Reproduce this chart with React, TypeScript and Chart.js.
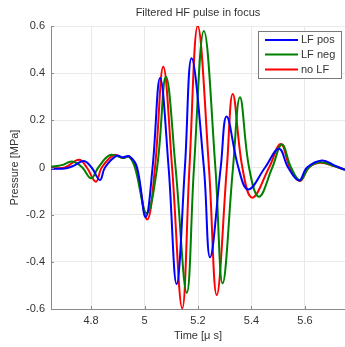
import React, { useEffect, useRef } from "react";
import { Chart, registerables } from "chart.js";

Chart.register(...registerables);

const TITLE = "Filtered HF pulse in focus";
const X_LABEL = "Time [μ s]";
const Y_LABEL = "Pressure [MPa]";
const X_TICKS = [4.8, 5, 5.2, 5.4, 5.6];
const Y_TICKS = [-0.6, -0.4, -0.2, 0, 0.2, 0.4, 0.6];
const SERIES_NAMES = ["LF pos", "LF neg", "no LF"];
const SERIES_COLORS = ["#0000ff", "#008000", "#ff0000"];

// LF pos (blue)
const lfPosX = [4.65, 4.702, 4.736, 4.773, 4.802, 4.833, 4.852, 4.896, 4.919, 4.942, 4.972, 5.004, 5.03, 5.058, 5.09, 5.12, 5.151, 5.176, 5.222, 5.245, 5.285, 5.307, 5.351, 5.388, 5.451, 5.503, 5.537, 5.578, 5.608, 5.664, 5.712, 5.75];
const lfPosY = [-0.005, -0.004, 0.008, 0.028, 0, -0.053, 0, 0.05, 0.043, 0.048, 0, -0.211, 0, 0.38, 0, -0.494, 0, 0.463, 0, -0.381, 0, 0.216, 0, -0.093, 0, 0.08, 0, -0.055, 0, 0.03, 0.008, -0.01];

// LF neg (green)
const lfNegX = [4.65, 4.69, 4.729, 4.767, 4.8, 4.827, 4.871, 4.919, 4.942, 4.964, 5.008, 5.047, 5.08, 5.116, 5.158, 5.185, 5.222, 5.265, 5.292, 5.331, 5.357, 5.391, 5.428, 5.478, 5.514, 5.548, 5.582, 5.615, 5.656, 5.712, 5.75];
const lfNegY = [0.003, 0.01, 0.025, 0, -0.046, 0, 0.053, 0.04, 0.046, 0, -0.194, 0, 0.385, 0, -0.531, 0, 0.579, 0, -0.491, 0, 0.298, 0, -0.124, 0, 0.097, 0, -0.055, 0, 0.022, 0.005, -0.01];

// no LF (red)
const noLfX = [4.65, 4.702, 4.755, 4.784, 4.818, 4.84, 4.886, 4.919, 4.942, 4.968, 5.01, 5.039, 5.07, 5.103, 5.141, 5.168, 5.199, 5.241, 5.27, 5.308, 5.33, 5.366, 5.403, 5.466, 5.51, 5.544, 5.582, 5.615, 5.656, 5.712, 5.75];
const noLfY = [-0.003, 0, 0.033, 0, -0.06, 0, 0.053, 0.04, 0.046, 0, -0.22, 0, 0.427, 0, -0.597, 0, 0.601, 0, -0.541, 0, 0.312, 0, -0.128, 0, 0.1, 0, -0.057, 0, 0.02, 0.005, -0.01];

const FONT = '"Liberation Sans", Arial, Helvetica, sans-serif';
const TEXT_COLOR = "#333333";
const AXIS_COLOR = "#8a8a8a";

const toPoints = (xs: number[], ys: number[]) => xs.map((x, i) => ({ x, y: ys[i] }));

const overlayPlugin = {
  id: "overlay",
  afterDraw(chart: any) {
    const ctx = chart.ctx as CanvasRenderingContext2D;
    const ca = chart.chartArea;
    const xs = chart.scales.x;
    const ys = chart.scales.y;
    ctx.save();
    ctx.strokeStyle = AXIS_COLOR;
    ctx.lineWidth = 1;
    X_TICKS.forEach((v) => {
      const px = Math.round(xs.getPixelForValue(v)) + 0.5;
      ctx.beginPath();
      ctx.moveTo(px, ca.bottom);
      ctx.lineTo(px, ca.bottom - 3);
      ctx.stroke();
    });
    Y_TICKS.forEach((v) => {
      const py = Math.round(ys.getPixelForValue(v)) + 0.5;
      ctx.beginPath();
      ctx.moveTo(ca.left, py);
      ctx.lineTo(ca.left + 3, py);
      ctx.stroke();
    });
    ctx.fillStyle = TEXT_COLOR;
    ctx.font = `11px ${FONT}`;
    ctx.textAlign = "center";
    ctx.textBaseline = "middle";
    ctx.fillText(TITLE, (ca.left + ca.right) / 2, 13);
    const lx = ca.right - 87;
    const ly = ca.top + 5;
    const lw = 83;
    const lh = 47;
    ctx.fillStyle = "#ffffff";
    ctx.fillRect(lx, ly, lw, lh);
    ctx.strokeStyle = "#7a7a7a";
    ctx.strokeRect(lx + 0.5, ly + 0.5, lw, lh);
    const rows = [9, 23.5, 38.5];
    SERIES_NAMES.forEach((name, i) => {
      const ry = ly + rows[i];
      ctx.strokeStyle = SERIES_COLORS[i];
      ctx.lineWidth = 2;
      ctx.beginPath();
      ctx.moveTo(lx + 7, ry);
      ctx.lineTo(lx + 40, ry);
      ctx.stroke();
      ctx.fillStyle = TEXT_COLOR;
      ctx.font = `11px ${FONT}`;
      ctx.textAlign = "left";
      ctx.textBaseline = "middle";
      ctx.fillText(name, lx + 43, ry);
    });
    ctx.restore();
  },
};

export default function App() {
  const canvasRef = useRef<HTMLCanvasElement | null>(null);

  useEffect(() => {
    if (!canvasRef.current) return;
    const seriesX = [lfPosX, lfNegX, noLfX];
    const seriesY = [lfPosY, lfNegY, noLfY];
    const chart = new Chart(canvasRef.current, {
      type: "line",
      data: {
        datasets: SERIES_NAMES.map((name, i) => ({
          label: name,
          data: toPoints(seriesX[i], seriesY[i]),
          borderColor: SERIES_COLORS[i],
          backgroundColor: SERIES_COLORS[i],
          borderWidth: 2,
          pointRadius: 0,
          tension: 0.4,
          fill: false,
        })),
      },
      options: {
        animation: false,
        responsive: true,
        maintainAspectRatio: false,
        layout: { padding: { top: 26, left: 0, right: 0, bottom: 0 } },
        plugins: {
          legend: { display: false },
          title: { display: false },
          tooltip: { enabled: false },
        },
        scales: {
          x: {
            type: "linear",
            min: 4.65,
            max: 5.75,
            afterBuildTicks: (s: any) => {
              s.ticks = X_TICKS.map((v) => ({ value: v }));
            },
            afterFit: (s: any) => {
              s.height = 38;
            },
            ticks: {
              padding: 5,
              color: TEXT_COLOR,
              font: { family: FONT, size: 11 },
              maxRotation: 0,
              callback: (v: any) => String(Math.round(Number(v) * 10) / 10),
            },
            grid: { color: "#e9e9e9", drawTicks: false },
            border: { color: AXIS_COLOR, width: 1 },
            title: {
              display: true,
              text: X_LABEL,
              color: TEXT_COLOR,
              font: { family: FONT, size: 11 },
              padding: { top: 0, bottom: 4 },
            },
          },
          y: {
            type: "linear",
            min: -0.6,
            max: 0.6,
            afterBuildTicks: (s: any) => {
              s.ticks = Y_TICKS.map((v) => ({ value: v }));
            },
            afterFit: (s: any) => {
              s.width = 51;
            },
            ticks: {
              padding: 6,
              color: TEXT_COLOR,
              font: { family: FONT, size: 11 },
              callback: (v: any) => String(Math.round(Number(v) * 10) / 10 || 0),
            },
            grid: { color: "#e9e9e9", drawTicks: false },
            border: { color: AXIS_COLOR, width: 1 },
            title: {
              display: true,
              text: Y_LABEL,
              color: TEXT_COLOR,
              font: { family: FONT, size: 11 },
              padding: { top: 8, bottom: 0 },
            },
          },
        },
      },
      plugins: [overlayPlugin],
    });
    return () => chart.destroy();
  }, []);

  return (
    <div style={{ position: "absolute", left: 0, top: 0, width: 345, height: 347, background: "#ffffff" }}>
      <canvas ref={canvasRef} />
    </div>
  );
}
